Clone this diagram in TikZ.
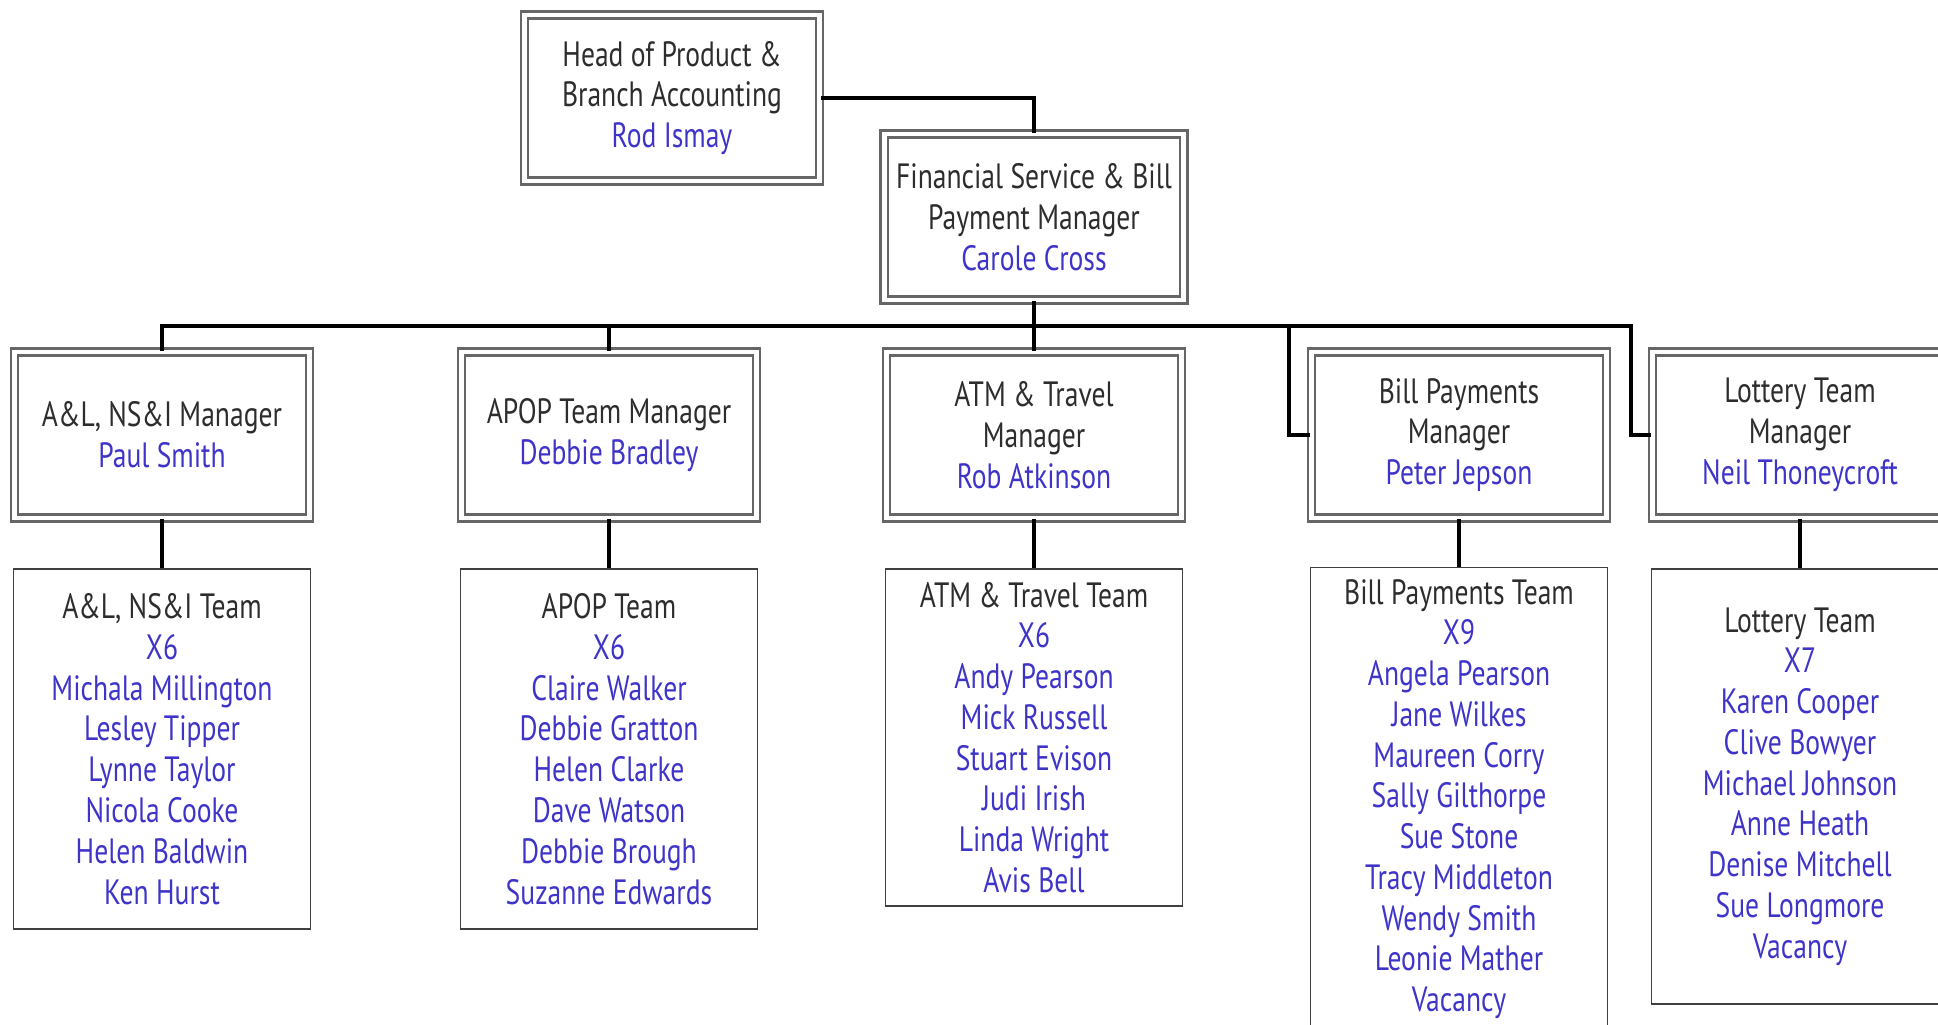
\documentclass[tikz,border=0pt]{standalone}
\usepackage{fontspec}
\setmainfont{PT Sans}[FakeStretch=0.785]
\definecolor{staff}{RGB}{62,52,200}
\definecolor{title}{RGB}{45,45,45}
\begin{document}
\begin{tikzpicture}[
    manager/.style={
        rectangle,
        draw=black!60,
        line width=0.75pt,
        double=white,
        double distance=1.3pt,
        minimum width=2.95cm,
        minimum height=1.66cm,
        align=center,
        text=title,
        font=\fontsize{10}{11.6}\selectfont
    },
    team/.style={
        rectangle,
        draw=black!75,
        line width=0.5pt,
        minimum width=2.97cm,
        align=center,
        text=title,
        font=\fontsize{10}{11.6}\selectfont
    },
    link/.style={line width=0.9pt, black}
]
\path[use as bounding box, clip] (0,0) rectangle (19.38,-10.24);

\node[manager] (head) at (6.72,-0.98) {Head of Product \&\\Branch Accounting\\\textcolor{staff}{Rod Ismay}};

\node[manager] (fin) at (10.34,-2.17) {Financial Service \& Bill\\Payment Manager\\\textcolor{staff}{Carole Cross}};

% managers
\node[manager] (al) at (1.62,-4.35) {A\&L, NS\&I Manager\\\textcolor{staff}{Paul Smith}};
\node[manager] (apop) at (6.09,-4.35) {APOP Team Manager\\\textcolor{staff}{Debbie Bradley}};
\node[manager] (atm) at (10.34,-4.35) {ATM \& Travel\\Manager\\\textcolor{staff}{Rob Atkinson}};
\node[manager] (bill) at (14.59,-4.35) {Bill Payments\\Manager\\\textcolor{staff}{Peter Jepson}};
\node[manager] (lot) at (18.00,-4.35) {Lottery Team\\Manager\\\textcolor{staff}{Neil Thoneycroft}};

% teams
\node[team, minimum height=3.60cm] (alteam) at (1.62,-7.49) {A\&L, NS\&I Team\\\textcolor{staff}{X6}\\\textcolor{staff}{Michala Millington}\\\textcolor{staff}{Lesley Tipper}\\\textcolor{staff}{Lynne Taylor}\\\textcolor{staff}{Nicola Cooke}\\\textcolor{staff}{Helen Baldwin}\\\textcolor{staff}{Ken Hurst}};
\node[team, minimum height=3.60cm] (apopteam) at (6.09,-7.49) {APOP Team\\\textcolor{staff}{X6}\\\textcolor{staff}{Claire Walker}\\\textcolor{staff}{Debbie Gratton}\\\textcolor{staff}{Helen Clarke}\\\textcolor{staff}{Dave Watson}\\\textcolor{staff}{Debbie Brough}\\\textcolor{staff}{Suzanne Edwards}};
\node[team, minimum height=3.37cm] (atmteam) at (10.34,-7.375) {ATM \& Travel Team\\\textcolor{staff}{X6}\\\textcolor{staff}{Andy Pearson}\\\textcolor{staff}{Mick Russell}\\\textcolor{staff}{Stuart Evison}\\\textcolor{staff}{Judi Irish}\\\textcolor{staff}{Linda Wright}\\\textcolor{staff}{Avis Bell}};
\node[team, minimum height=4.60cm] (billteam) at (14.59,-7.99) {Bill Payments Team\\\textcolor{staff}{X9}\\\textcolor{staff}{Angela Pearson}\\\textcolor{staff}{Jane Wilkes}\\\textcolor{staff}{Maureen Corry}\\\textcolor{staff}{Sally Gilthorpe}\\\textcolor{staff}{Sue Stone}\\\textcolor{staff}{Tracy Middleton}\\\textcolor{staff}{Wendy Smith}\\\textcolor{staff}{Leonie Mather}\\\textcolor{staff}{Vacancy}};
\node[team, minimum height=4.35cm] (lotteam) at (18.00,-7.865) {Lottery Team\\\textcolor{staff}{X7}\\\textcolor{staff}{Karen Cooper}\\\textcolor{staff}{Clive Bowyer}\\\textcolor{staff}{Michael Johnson}\\\textcolor{staff}{Anne Heath}\\\textcolor{staff}{Denise Mitchell}\\\textcolor{staff}{Sue Longmore}\\\textcolor{staff}{Vacancy}};

% connectors
\coordinate (bus) at (10.34,-3.26);
\coordinate (billjoint) at (12.89,-3.26);
\coordinate (lotjoint) at (16.31,-3.26);

\draw[link] (head.east) -| (fin.north);
\draw[link] (fin.south) -- (bus);
\draw[link] (al.north) |- (bus);
\draw[link] (apop.north) |- (bus);
\draw[link] (atm.north) -- (bus);
\draw[link] (bill.west) -| (billjoint) -- (bus);
\draw[link] (lot.west) -| (lotjoint) -- (billjoint);

\draw[link] (al) -- (alteam);
\draw[link] (apop) -- (apopteam);
\draw[link] (atm) -- (atmteam);
\draw[link] (bill) -- (billteam);
\draw[link] (lot) -- (lotteam);

\end{tikzpicture}
\end{document}
